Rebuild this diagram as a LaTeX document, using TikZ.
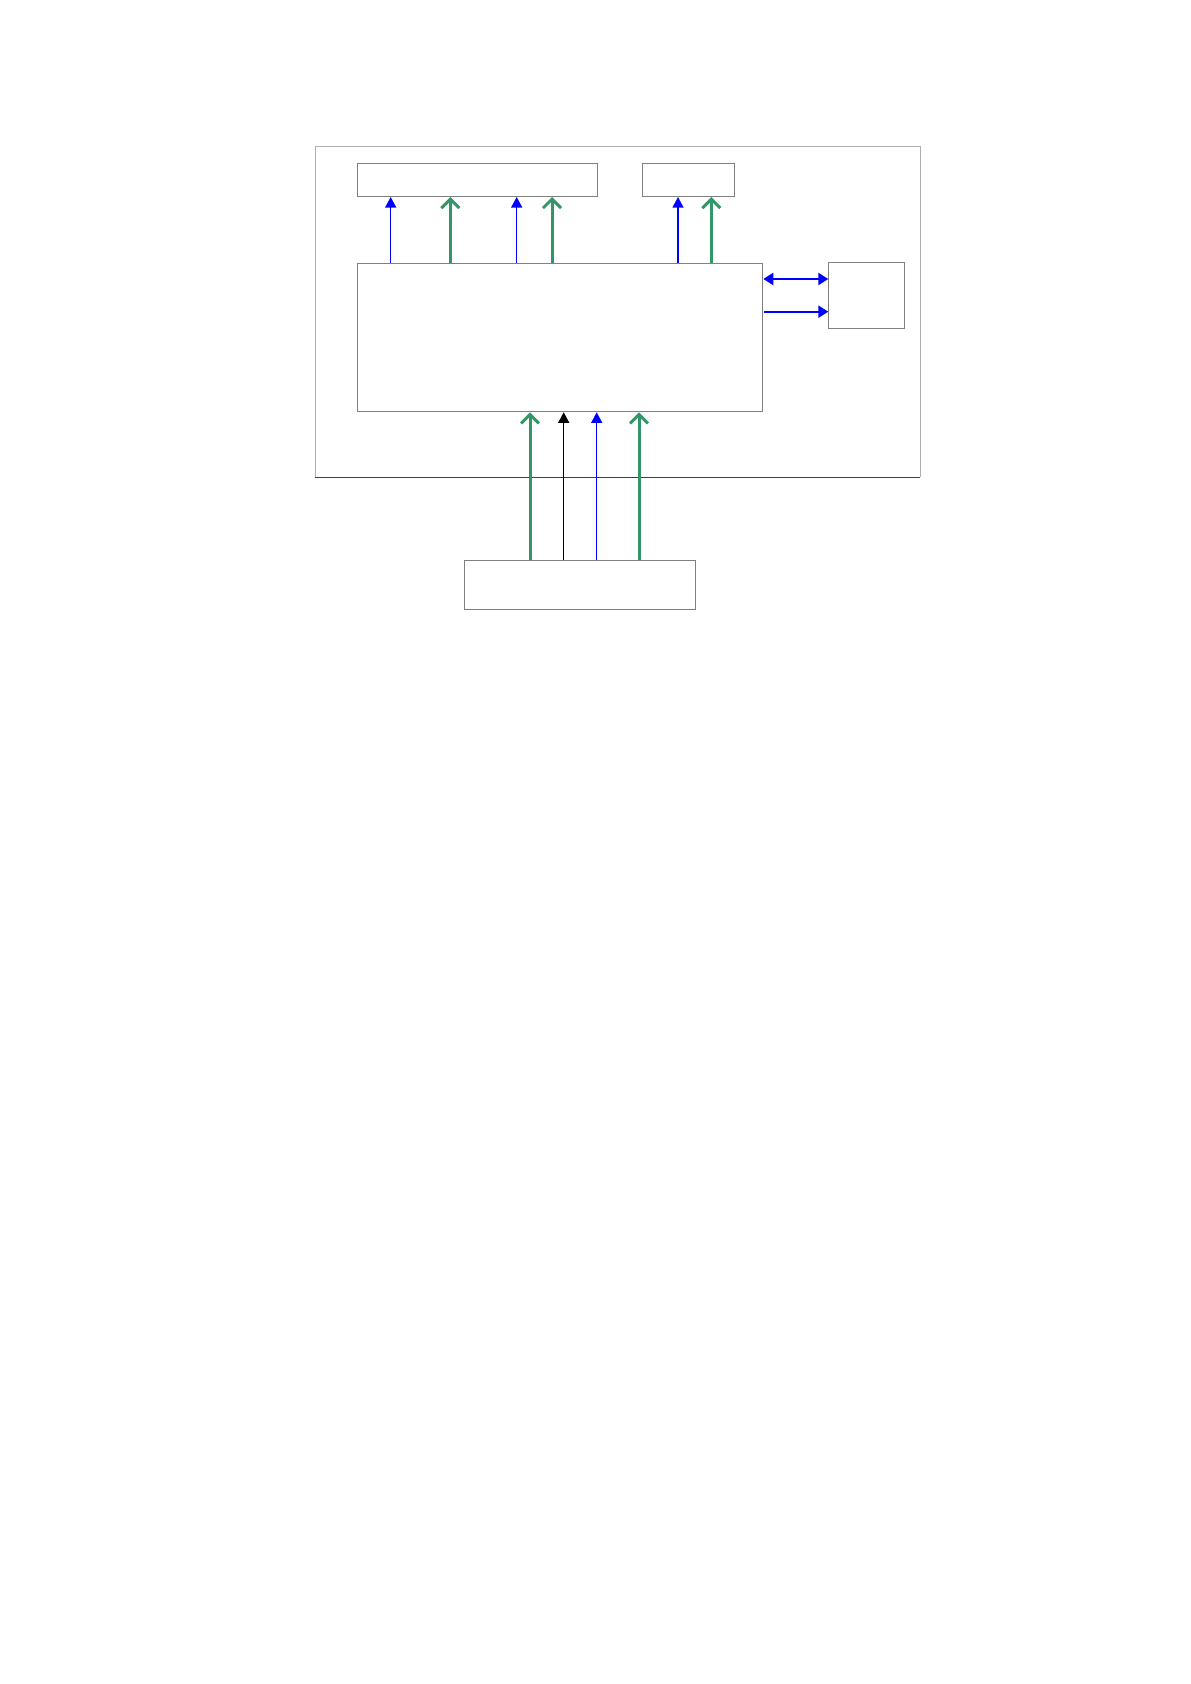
\documentclass[tikz,border=0pt]{standalone}
\usetikzlibrary{arrows.meta}
\definecolor{sigblue}{RGB}{0,0,255}
\definecolor{siggreen}{RGB}{51,150,104}
\definecolor{boxgray}{RGB}{128,128,128}
\definecolor{outergray}{RGB}{175,175,175}
\tikzset{
  blockbox/.style={draw=boxgray, line width=0.5pt, fill=white, inner sep=0pt, anchor=north west},
  bluethin/.style={draw=sigblue, line width=0.7pt, -{Triangle[length=5.3pt,width=5.5pt]}},
  greenthick/.style={draw=siggreen, line width=1.5pt, -{Straight Barb[length=4.5pt,width=9pt,line width=1.5pt]}},
  blackthin/.style={draw=black, line width=0.7pt, -{Triangle[length=5.3pt,width=5.5pt]}},
  bluehoriz/.style={draw=sigblue, line width=1.1pt},
}
\begin{document}
\begin{tikzpicture}[x=0.5pt,y=-0.5pt]
\useasboundingbox (0,0) rectangle (1190,1684);
% outer frame
\draw[outergray, line width=0.5pt] (315,477.3) -- (315,146.7) -- (920,146.7) -- (920,477.3);
\draw[black!75, line width=0.6pt] (315,477.3) -- (920,477.3);
% blocks
\node[blockbox, minimum width=239.4*0.5pt, minimum height=32.7*0.5pt] (topa) at (357.3,163.3) {};
\node[blockbox, minimum width=92*0.5pt, minimum height=32.7*0.5pt] (topb) at (642.3,163.3) {};
\node[blockbox, minimum width=405*0.5pt, minimum height=148.6*0.5pt] (main) at (357.3,262.7) {};
\node[blockbox, minimum width=75.4*0.5pt, minimum height=66*0.5pt] (side) at (828.3,262.3) {};
\node[blockbox, minimum width=231.3*0.5pt, minimum height=49.3*0.5pt] (bottom) at (464,560) {};
% arrows main -> topa
\draw[bluethin] (main.north -| 390.7,0) -- (topa.south -| 390.7,0);
\draw[greenthick] (main.north -| 450.3,0) -- (topa.south -| 450.3,0);
\draw[bluethin] (main.north -| 516.7,0) -- (topa.south -| 516.7,0);
\draw[greenthick] (main.north -| 552,0) -- (topa.south -| 552,0);
% arrows main -> topb
\draw[bluethin] (main.north -| 678,0) -- (topb.south -| 678,0);
\draw[greenthick] (main.north -| 711.3,0) -- (topb.south -| 711.3,0);
% arrows main <-> side
\draw[bluehoriz, {Triangle[length=5pt,width=6pt]}-{Triangle[length=5pt,width=6pt]}] (main.east |- 0,279) -- (side.west |- 0,279);
\coordinate (sstart) at (764,311.7);
\draw[bluehoriz, -{Triangle[length=5pt,width=6pt]}] (sstart) -- (side.west |- sstart);
% arrows bottom -> main
\draw[greenthick] (bottom.north -| 530,0) -- (main.south -| 530,0);
\draw[blackthin] (bottom.north -| 563.7,0) -- (main.south -| 563.7,0);
\draw[bluethin] (bottom.north -| 596.7,0) -- (main.south -| 596.7,0);
\draw[greenthick] (bottom.north -| 639,0) -- (main.south -| 639,0);
\end{tikzpicture}
\end{document}
